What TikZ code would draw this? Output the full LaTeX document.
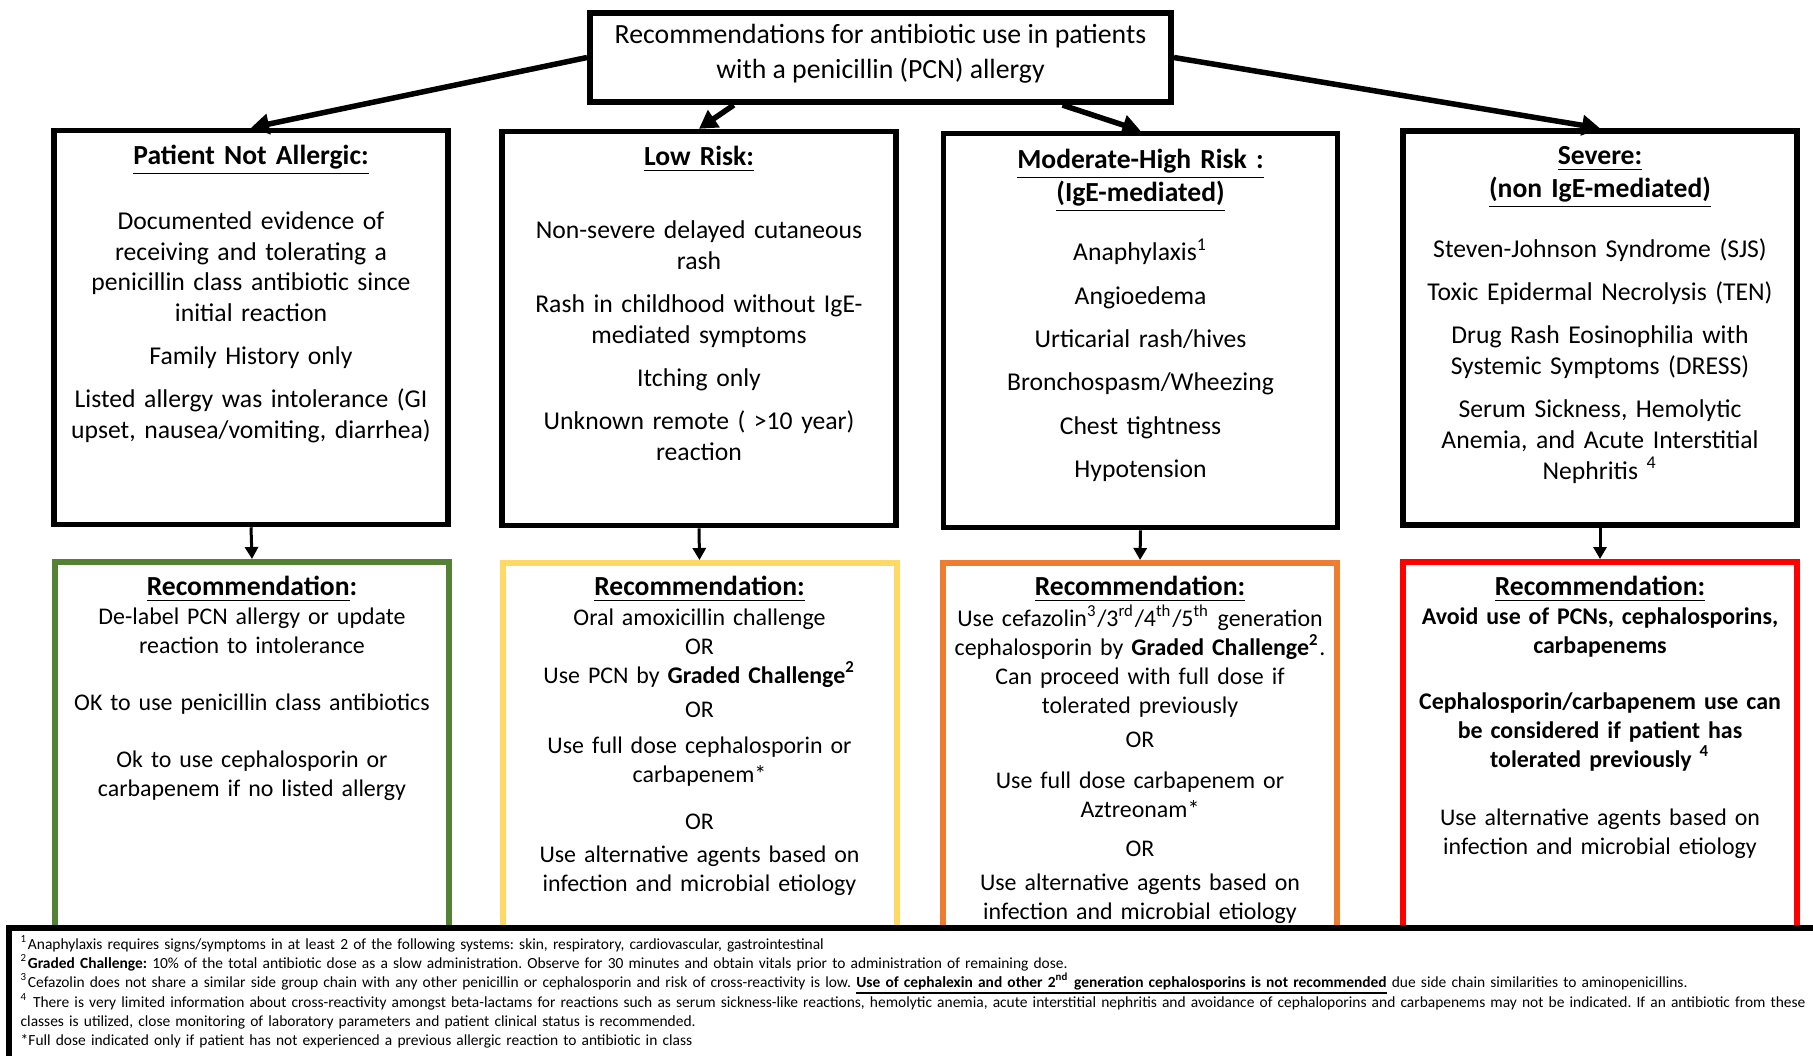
\documentclass[tikz,border=0pt]{standalone}
\usepackage{fontspec}
\setmainfont{Carlito}
\frenchspacing
\definecolor{recgreen}{RGB}{84,130,53}
\definecolor{recyellow}{RGB}{255,217,102}
\definecolor{recorange}{RGB}{237,125,49}
\definecolor{recred}{RGB}{255,0,0}
\usetikzlibrary{arrows.meta,positioning,calc}
% underline close to the baseline
\newcommand{\noteul}[1]{\underline{\smash{#1}}}

\tikzset{
  topbox/.style={draw, line width=0.055cm, minimum width=3.94cm, minimum height=3.94cm, inner sep=0pt},
  recbox/.style={draw=#1, line width=0.06cm, minimum width=3.94cm, minimum height=3.75cm, inner sep=0pt},
  headtxt/.style={inner sep=0pt, text width=3.9cm, align=center, font={\fontsize{7.85}{9.4}\selectfont\bfseries\lineskiplimit-5pt}, execute at begin node=\strut},
  bodytxt/.style={inner sep=0pt, text width=3.9cm, align=center, font={\fontsize{7.3}{8.8}\selectfont\lineskiplimit-5pt}, execute at begin node=\strut},
  rectxt/.style={inner sep=0pt, text width=3.9cm, align=center, font={\fontsize{6.8}{8.25}\selectfont\lineskiplimit-5pt}, execute at begin node=\strut},
  notetxt/.style={inner sep=0pt, text width=18.2cm, align=left, font={\fontsize{4.4}{5.5}\selectfont\lineskiplimit-5pt}, execute at begin node=\strut},
  bigarrow/.style={line width=0.055cm, -{Triangle[length=0.18cm,width=0.2cm]}},
  downarrow/.style={line width=0.03cm, -{Triangle[length=0.12cm,width=0.13cm]}}
}

\begin{document}
\begin{tikzpicture}
  \clip (0,0) rectangle (18.13,-10.55);

  % Title
  \node[draw, line width=0.06cm, minimum width=5.81cm, minimum height=0.86cm, align=center, text depth=3.4pt, font=\fontsize{7.9}{9.8}\selectfont] (title) at (8.805,-0.575) {Recommendations for antibiotic use in patients\\ with a penicillin (PCN) allergy};

  % Risk categories
  \node[topbox] (notallergic) at (2.51,-3.275) {};
  \node[headtxt, below=0.125cm of notallergic.north] (naheading) {\underline{Patient Not Allergic:}};
  \node[bodytxt, below=0.79cm of notallergic.north] (nabody) {Documented evidence of\\ receiving and tolerating a\\ penicillin class antibiotic since\\ initial reaction\\[0.12cm] Family History only\\[0.12cm] Listed allergy was intolerance (GI\\ upset, nausea/vomiting, diarrhea)};

  \node[topbox] (lowrisk) at (6.99,-3.285) {};
  \node[headtxt, below=0.13cm of lowrisk.north] (lrheading) {\underline{Low Risk:}};
  \node[bodytxt, below=0.875cm of lowrisk.north] (lrbody) {Non-severe delayed cutaneous\\ rash\\[0.12cm] Rash in childhood without IgE-\\ mediated symptoms\\[0.12cm] Itching only\\[0.12cm] Unknown remote ( >10 year)\\ reaction};

  \node[topbox] (modhigh) at (11.405,-3.305) {};
  \node[headtxt, below=0.135cm of modhigh.north] (mhheading) {\underline{Moderate-High Risk :}\\ \underline{(IgE-mediated)}};
  \node[bodytxt, below=1.07cm of modhigh.north] (mhbody) {Anaphylaxis\textsuperscript{1}\\[0.125cm] Angioedema\\[0.125cm] Urticarial rash/hives\\[0.125cm] Bronchospasm/Wheezing\\[0.125cm] Chest tightness\\[0.125cm] Hypotension};

  \node[topbox] (severe) at (16.0,-3.28) {};
  \node[headtxt, below=0.12cm of severe.north] (svheading) {\underline{Severe:}\\ \underline{(non IgE-mediated)}};
  \node[bodytxt, below=1.07cm of severe.north] (svbody) {Steven-Johnson Syndrome (SJS)\\[0.12cm] Toxic Epidermal Necrolysis (TEN)\\[0.12cm] Drug Rash Eosinophilia with\\ Systemic Symptoms (DRESS)\\[0.12cm] Serum Sickness, Hemolytic\\ Anemia, and Acute Interstitial\\ Nephritis \textsuperscript{4}};

  % Arrows from title
  \draw[bigarrow] (title.west) -- (notallergic.north);
  \draw[bigarrow] ($(title.south west)!0.25!(title.south east)$) -- (lowrisk.north);
  \draw[bigarrow] ($(title.south west)!0.81!(title.south east)$) -- (modhigh.north);
  \draw[bigarrow] (title.east) -- (severe.north);

  % Recommendations
  \node[recbox=recgreen] (recna) at (2.52,-7.495) {};
  \node[headtxt, below=0.125cm of recna.north] (recnahead) {\underline{Recommendation}:};
  \node[rectxt, below=0.445cm of recna.north] (recnabody) {De-label PCN allergy or update\\ reaction to intolerance\\[0.28cm] OK to use penicillin class antibiotics\\[0.28cm] Ok to use cephalosporin or\\ carbapenem if no listed allergy};

  \node[recbox=recyellow] (reclr) at (6.995,-7.505) {};
  \node[headtxt, below=0.115cm of reclr.north] (reclrhead) {\underline{Recommendation:}};
  \node[rectxt, below=0.44cm of reclr.north] (reclrbody) {Oral amoxicillin challenge\\ OR\\ Use PCN by \textbf{Graded Challenge\textsuperscript{2}}\\[0.05cm] OR\\[0.07cm] Use full dose cephalosporin or\\ carbapenem*\\[0.18cm] OR\\[0.05cm] Use alternative agents based on\\ infection and microbial etiology};

  \node[recbox=recorange] (recmh) at (11.40,-7.505) {};
  \node[headtxt, below=0.115cm of recmh.north] (recmhhead) {\underline{Recommendation:}};
  \node[rectxt, below=0.44cm of recmh.north] (recmhbody) {Use cefazolin\textsuperscript{3}/3\textsuperscript{rd}/4\textsuperscript{th}/5\textsuperscript{th} generation\\ cephalosporin by \textbf{Graded Challenge\textsuperscript{2}}.\\ Can proceed with full dose if\\ tolerated previously\\[0.05cm] OR\\[0.12cm] Use full dose carbapenem or\\ Aztreonam*\\[0.1cm] OR\\[0.05cm] Use alternative agents based on\\ infection and microbial etiology};

  \node[recbox=recred] (recsv) at (16.0,-7.495) {};
  \node[headtxt, below=0.125cm of recsv.north] (recsvhead) {\underline{Recommendation:}};
  \node[rectxt, below=0.445cm of recsv.north] (recsvbody) {\textbf{Avoid use of PCNs, cephalosporins,}\\ \textbf{carbapenems}\\[0.27cm] \textbf{Cephalosporin/carbapenem use can}\\ \textbf{be considered if patient has}\\ \textbf{tolerated previously \textsuperscript{4}}\\[0.29cm] Use alternative agents based on\\ infection and microbial etiology};

  % Down arrows
  \draw[downarrow] (notallergic.south) -- (recna.north);
  \draw[downarrow] (lowrisk.south) -- (reclr.north);
  \draw[downarrow] (modhigh.south) -- (recmh.north);
  \draw[downarrow] (severe.south) -- (recsv.north);

  % Footnotes
  \node[draw, fill=white, line width=0.06cm, minimum width=18.31cm, minimum height=1.62cm, inner sep=0pt] (notes) at (9.245,-10.09) {};
  \node[notetxt, below right=0.095cm and 0.14cm of notes.north west] (notetext) {\textsuperscript{1}Anaphylaxis requires signs/symptoms in at least 2 of the following systems: skin, respiratory, cardiovascular, gastrointestinal\\
  \textsuperscript{2}\textbf{Graded Challenge:} 10\% of the total antibiotic dose as a slow administration. Observe for 30 minutes and obtain vitals prior to administration of remaining dose.\\
  \textsuperscript{3}Cefazolin does not share a similar side group chain with any other penicillin or cephalosporin and risk of cross-reactivity is low. \noteul{\textbf{Use of cephalexin and other 2\textsuperscript{nd} generation cephalosporins is not recommended}} due side chain similarities to aminopenicillins.\\
  \textsuperscript{4} There is very limited information about cross-reactivity amongst beta-lactams for reactions such as serum sickness-like reactions, hemolytic anemia, acute interstitial nephritis and avoidance of cephaloporins and carbapenems may not be indicated. If an antibiotic from these\\
  classes is utilized, close monitoring of laboratory parameters and patient clinical status is recommended.\\
  \relax *Full dose indicated only if patient has not experienced a previous allergic reaction to antibiotic in class};
\end{tikzpicture}
\end{document}
